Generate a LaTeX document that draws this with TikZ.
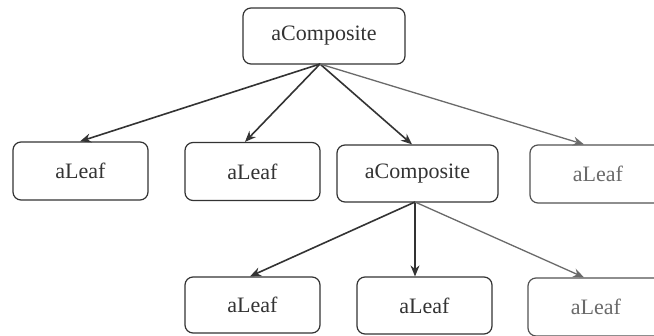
\documentclass[tikz,border=0pt]{standalone}
\usepackage{fontspec}
\setmainfont{Liberation Serif}
\usetikzlibrary{arrows.meta}
\definecolor{ink}{HTML}{333333}
\definecolor{paleink}{HTML}{6A6A6A}
\tikzset{
  obj/.style={draw=ink, line width=1.2pt, rounded corners=8pt, fill=white,
    font=\fontsize{22}{24}\selectfont, text=ink, inner sep=0pt},
  paleobj/.style={obj, draw=ink!85, text=paleink},
  link/.style={draw=ink, line width=1.6pt, -{Stealth[length=11pt,width=9pt]}},
  palelink/.style={link, draw=paleink, line width=1.3pt}
}
\begin{document}
\begin{tikzpicture}[x=1pt,y=-1pt]
  \useasboundingbox (0,0) rectangle (654,336);
  \clip (0,0) rectangle (654,336);
  \fill[white] (0,0) rectangle (654,336);
  % top level
  \node[obj, minimum width=162pt, minimum height=56pt] (root) at (324,36) {aComposite};
  % second level
  \node[obj, minimum width=135pt, minimum height=58pt] (l1) at (80.5,171) {aLeaf};
  \node[obj, minimum width=135pt, minimum height=58pt] (l2) at (252.5,171.5) {aLeaf};
  \node[obj, minimum width=161pt, minimum height=57pt] (c2) at (417.5,173.5) {aComposite};
  \node[paleobj, minimum width=136pt, minimum height=58pt] (l4) at (598,174) {aLeaf};
  % third level
  \node[obj, minimum width=135pt, minimum height=56pt] (l5) at (252.5,305) {aLeaf};
  \node[obj, minimum width=135pt, minimum height=57pt] (l6) at (424.5,305.5) {aLeaf};
  \node[paleobj, minimum width=136pt, minimum height=58pt] (l7) at (596,307) {aLeaf};
  % fan-out points
  \coordinate (r0) at (320,64);
  \coordinate (c0) at (415,202);
  % connectors
  \draw[link] (r0) -- (l1.north -| 80,0);
  \draw[link] (r0) -- (l2.north -| 245,0);
  \draw[link] (r0) -- (c2.north -| 412,0);
  \draw[palelink] (r0) -- (l4.north -| 584,0);
  \draw[link] (c0) -- (l5.north -| 250,0);
  \draw[link, line width=1.3pt] (c0) -- (l6.north -| 415,0);
  \draw[palelink] (c0) -- (l7.north -| 584,0);
\end{tikzpicture}
\end{document}
